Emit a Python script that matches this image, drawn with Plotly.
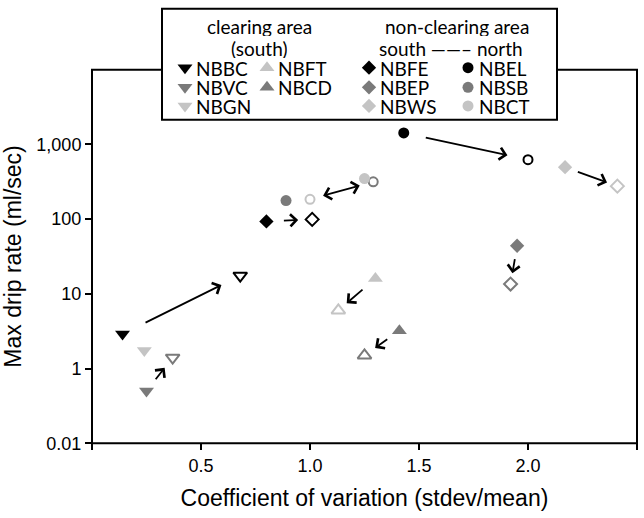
import math
import plotly.graph_objects as go

# ---------------- data ----------------
sites = ["NBBC", "NBVC", "NBGN", "NBFT", "NBCD", "NBFE", "NBEP", "NBWS", "NBEL", "NBSB", "NBCT"]
# filled markers (first period)
cv_filled = [0.14, 0.25, 0.24, 1.30, 1.41, 0.80, 1.95, 2.17, 1.43, 0.89, 1.25]
rate_filled = [2.9, 0.50, 1.75, 16.0, 3.2, 93, 44, 495, 1420, 177, 348]
# open markers (second period)
cv_open = [0.68, 0.37, None, 1.13, 1.25, 1.01, 1.92, 2.41, 2.00, 1.29, 1.00]
rate_open = [17.5, 1.4, None, 6.0, 1.5, 99, 13.5, 276, 624, 315, 184]

# arrows: (from site, from kind, to site, to kind, double-headed)
arrows = [
    ("NBBC", "filled", "NBBC", "open", False),
    ("NBVC", "filled", "NBVC", "open", False),
    ("NBFT", "filled", "NBFT", "open", False),
    ("NBCD", "filled", "NBCD", "open", False),
    ("NBFE", "filled", "NBFE", "open", False),
    ("NBEP", "filled", "NBEP", "open", False),
    ("NBWS", "filled", "NBWS", "open", False),
    ("NBEL", "filled", "NBEL", "open", False),
    ("NBCT", "open", "NBSB", "open", True),
]
arrow_gap_start = [24, 13, 15, 13, 16, 12, 12, 21, 12]
arrow_gap_end = [21, 13, 11, 13, 14, 11, 11, 21, 14]

x_tickvals = [0, 0.5, 1.0, 1.5, 2.0, 2.5]
x_ticktext = ["", "0.5", "1.0", "1.5", "2.0", "2.5"]
y_tickvals = [0.1, 1, 10, 100, 1000]
y_ticktext = ["0.01", "1", "10", "100", "1,000"]

# ---------------- style ----------------
BLACK, GREY, LIGHT = "#000000", "#7a7a7a", "#c4c4c4"
style = {
    "NBBC": ("triangle-down", BLACK), "NBVC": ("triangle-down", GREY), "NBGN": ("triangle-down", LIGHT),
    "NBFT": ("triangle-up", LIGHT), "NBCD": ("triangle-up", GREY),
    "NBFE": ("diamond", BLACK), "NBEP": ("diamond", GREY), "NBWS": ("diamond", LIGHT),
    "NBEL": ("circle", BLACK), "NBSB": ("circle", GREY), "NBCT": ("circle", LIGHT),
}
size_of = {"triangle-down": 13, "triangle-up": 13, "diamond": 11, "circle": 11}
open_size = {"triangle-down": 12, "triangle-up": 12, "diamond": 10, "circle": 9}

TICK_FONT = dict(family="Liberation Sans, Arial, sans-serif", size=18, color="black")
TITLE_FONT = dict(family="Liberation Sans, Arial, sans-serif", size=23, color="black")
LEG_FONT = dict(family="Lato, Liberation Sans, sans-serif", size=19, color="black")

W, H = 644, 518
L, R, T, B = 92, 637, 71, 452   # plot-area edges in pixels

fig = go.Figure()

# data points
for i, s in enumerate(sites):
    sym, col = style[s]
    fig.add_trace(go.Scatter(
        x=[cv_filled[i]], y=[rate_filled[i]], mode="markers", showlegend=False,
        marker=dict(symbol=sym, size=size_of[sym], color=col, line=dict(width=0)),
    ))
    if cv_open[i] is not None:
        fig.add_trace(go.Scatter(
            x=[cv_open[i]], y=[rate_open[i]], mode="markers", showlegend=False,
            marker=dict(symbol=sym + "-open", size=open_size[sym], color=col,
                        line=dict(width=2, color=col)),
        ))

# arrows
def point(site, kind):
    i = sites.index(site)
    if kind == "filled":
        return cv_filled[i], rate_filled[i]
    return cv_open[i], rate_open[i]

for k, (fs, fk, ts, tk, both) in enumerate(arrows):
    x0, y0 = point(fs, fk)
    x1, y1 = point(ts, tk)
    fig.add_annotation(
        x=x1, y=math.log10(y1), ax=x0, ay=math.log10(y0),
        xref="x", yref="y", axref="x", ayref="y", text="", showarrow=True,
        arrowhead=4, arrowsize=1.3, arrowwidth=1.8, arrowcolor="black",
        arrowside="end+start" if both else "end",
        startarrowhead=4, startarrowsize=1.3,
        standoff=arrow_gap_end[k], startstandoff=arrow_gap_start[k],
    )

# ---------------- frame + legend (on a full-figure pixel overlay axis) ----------------
def py(v):
    return H - v

fig.add_shape(type="rect", xref="x2", yref="y2", x0=L, x1=R, y0=py(B), y1=py(T),
              line=dict(color="black", width=2), fillcolor="rgba(0,0,0,0)", layer="below")
fig.add_shape(type="rect", xref="x2", yref="y2", x0=162, x1=557, y0=py(122), y1=py(9),
              line=dict(color="black", width=2), fillcolor="white", layer="below")

legend_items = [
    ("NBBC", 185, 69), ("NBVC", 185, 89), ("NBGN", 185, 108),
    ("NBFT", 267, 69), ("NBCD", 267, 89),
    ("NBFE", 369, 69), ("NBEP", 369, 89), ("NBWS", 369, 108),
    ("NBEL", 468, 69), ("NBSB", 468, 89), ("NBCT", 468, 108),
]
for s, lx, ly in legend_items:
    sym, col = style[s]
    fig.add_trace(go.Scatter(
        x=[lx], y=[py(ly)], mode="markers", xaxis="x2", yaxis="y2",
        showlegend=False, cliponaxis=False, hoverinfo="skip",
        marker=dict(symbol=sym, size=size_of[sym], color=col, line=dict(width=0)),
    ))
    fig.add_annotation(x=lx + 10, y=py(ly), xref="x2", yref="y2", text=s,
                       showarrow=False, xanchor="left", yanchor="middle", font=LEG_FONT,
                       height=18, valign="middle", borderpad=0)

headers = [("clearing area", 259, 26), ("(south)", 259, 49),
           ("non-clearing area", 457, 26), ("south ——– north", 451, 49)]
for t, hx, hy in headers:
    fig.add_annotation(x=hx, y=py(hy), xref="x2", yref="y2", text=t, showarrow=False,
                       xanchor="center", yanchor="middle", font=LEG_FONT,
                       height=20, valign="middle", borderpad=0)

fig.update_layout(
    width=W, height=H,
    margin=dict(l=0, r=0, t=0, b=0),
    paper_bgcolor="white", plot_bgcolor="rgba(0,0,0,0)",
    xaxis=dict(domain=[L / W, R / W], range=[0, 2.5], tickvals=x_tickvals, ticktext=x_ticktext,
               ticks="outside", ticklen=6, tickwidth=1.5, tickcolor="black",
               showgrid=False, zeroline=False, showline=False, tickfont=TICK_FONT,
               title=dict(text="Coefficient of variation (stdev/mean)", font=TITLE_FONT)),
    yaxis=dict(domain=[(H - B) / H, (H - T) / H], type="log", range=[-1, 4],
               tickvals=y_tickvals, ticktext=y_ticktext,
               ticks="outside", ticklen=6, tickwidth=1.5, tickcolor="black",
               showgrid=False, zeroline=False, showline=False, tickfont=TICK_FONT,
               title=dict(text="Max drip rate (ml/sec)", font=TITLE_FONT)),
    xaxis2=dict(domain=[0, 1], range=[0, W], visible=False, anchor="y2", fixedrange=True),
    yaxis2=dict(domain=[0, 1], range=[0, H], visible=False, anchor="x2", fixedrange=True),
)

fig.write_html("out.html")
